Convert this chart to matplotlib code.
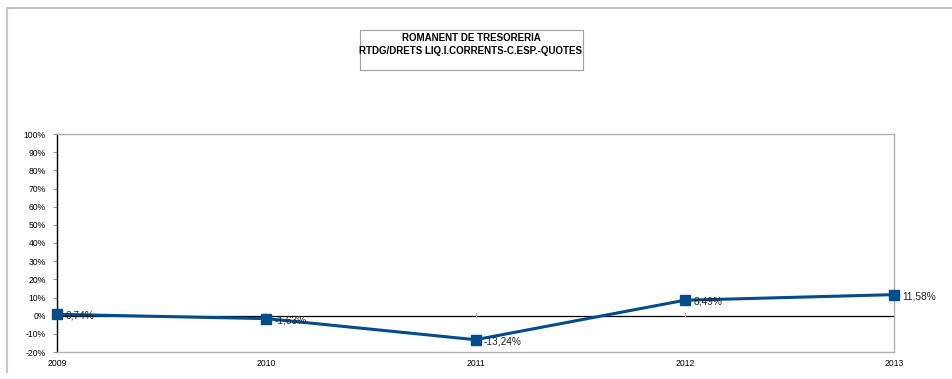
import matplotlib.pyplot as plt
from matplotlib.patches import Rectangle
from matplotlib.lines import Line2D

plt.rcParams['font.family'] = ['Liberation Sans', 'DejaVu Sans']

# romanent de tresoreria per any (%)
years = [2009, 2010, 2011, 2012, 2013]
values = [0.74, -1.63, -13.24, 8.49, 11.58]
labels = ['0,74%', '-1,63%', '-13,24%', '8,49%', '11,58%']
yticks = list(range(-20, 101, 10))

fig = plt.figure(figsize=(9.53, 3.79), dpi=100)

# outer frame (top and left edges only)
fig.add_artist(Line2D([7/953, 1], [1 - 8/379, 1 - 8/379], color='#b0b0b0', lw=1.2))
fig.add_artist(Line2D([7/953, 7/953], [1 - 8/379, 1 - 372/379], color='#c8c8c8', lw=1.5))

# title box
fig.add_artist(Rectangle((360/953, 1 - 70/379), 223/953, 40/379, transform=fig.transFigure,
                         fill=False, edgecolor='#a0a0a0', lw=0.8))
fig.text(471/953, 1 - 38/379, 'ROMANENT DE TRESORERIA', ha='center', va='center',
         fontsize=7, fontweight='bold')
fig.text(471/953, 1 - 51/379, 'RTDG/DRETS LIQ.I.CORRENTS-C.ESP.-QUOTES', ha='center', va='center',
         fontsize=7, fontweight='bold')

ax = fig.add_axes([57/953, 1 - 352/379, (894 - 57)/953, (352 - 134)/379])
ax.set_xlim(years[0], years[-1])
ax.set_ylim(-20, 100)

ax.axhline(0, color='black', lw=0.9, zorder=2)
for x in years[1:-1]:
    ax.plot([x, x], [0, 1.5], color='#b0b0b0', lw=0.8, zorder=2)

ax.plot(years, values, color='#004c8c', lw=2.2, marker='s', markersize=6.5, zorder=3,
        clip_on=False)
for x, v, s in zip(years, values, labels):
    ax.annotate(s, (x, v), xytext=(6, -1), textcoords='offset points', ha='left', va='center',
                fontsize=7.3, color='#222222', zorder=4, annotation_clip=False)

ax.set_yticks(yticks)
ax.set_yticklabels([f'{t}%' for t in yticks])
ax.set_xticks(years)
ax.set_xticklabels([str(y) for y in years])
ax.tick_params(axis='y', labelsize=6.2, length=3, width=0.6, color='#808080', pad=5)
ax.tick_params(axis='x', labelsize=6.2, length=0, pad=5)

ax.spines['left'].set_color('black')
ax.spines['left'].set_linewidth(1.0)
for side in ['top', 'right', 'bottom']:
    ax.spines[side].set_color('#b0b0b0')
    ax.spines[side].set_linewidth(1.0)

fig.savefig('out.png', dpi=100)
